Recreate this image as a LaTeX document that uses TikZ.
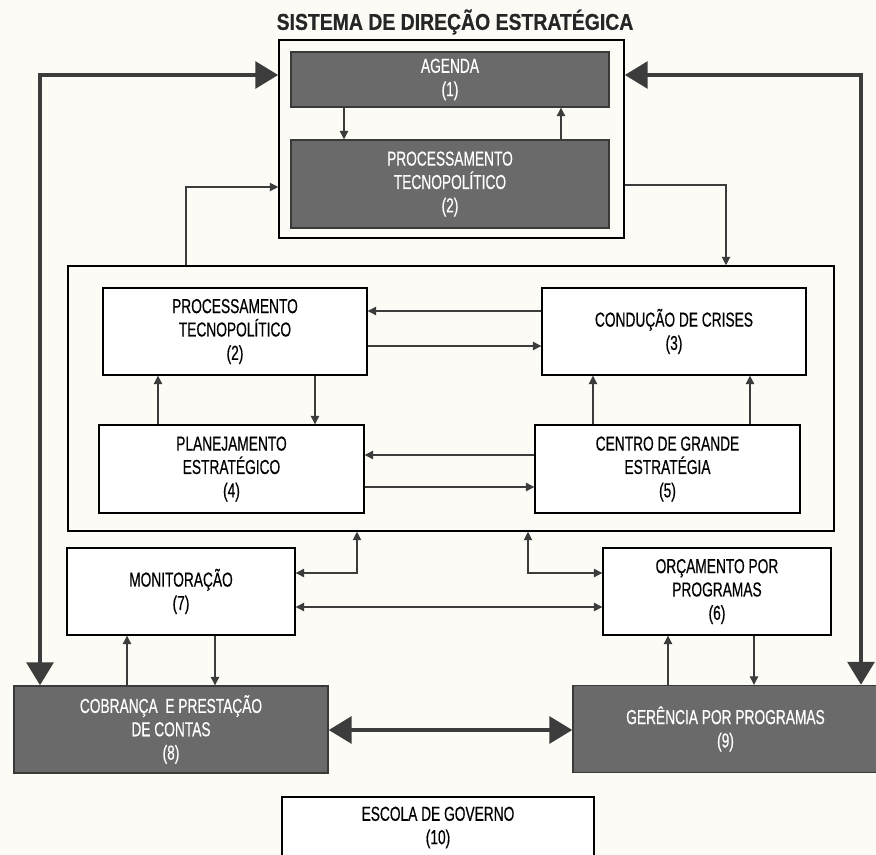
\documentclass[tikz,border=0pt]{standalone}
\usepackage{fontspec}
\setmainfont{Liberation Sans}[FakeStretch=0.68,FakeBold=0.5]
\newfontfamily\fonttitulo{Liberation Sans Bold}[FakeStretch=0.85,FakeBold=0.6]
\usetikzlibrary{arrows.meta}
\definecolor{cinzabox}{RGB}{106,106,106}
\definecolor{cinzalinha}{RGB}{60,60,60}
\definecolor{papel}{RGB}{252,251,245}

\begin{document}
\begin{tikzpicture}[x=0.02cm,y=-0.02cm,
  caixa/.style={draw=black,line width=0.8pt,fill=white,align=center,inner sep=0pt,
    font=\fontsize{11.5}{13.3}\selectfont},
  escura/.style={caixa,fill=cinzabox,text=white,draw=cinzabox!55!black},
  moldura/.style={draw=black,line width=0.9pt,inner sep=0pt},
  fina/.style={draw=cinzalinha,line width=0.6pt,>={Triangle[length=4.8pt,width=4.8pt]}},
  grossa/.style={draw=cinzalinha,line width=2.6pt,>={Triangle[length=13pt,width=15pt]}}]

\useasboundingbox[fill=papel] (0,0) rectangle (876,855);

\node[font=\fonttitulo\fontsize{13}{15}\selectfont,text=black!85] (titulo) at (455,22) {SISTEMA DE DIREÇÃO ESTRATÉGICA};

% bloco de cima
\node[moldura,minimum width=6.9cm,minimum height=3.96cm] (sistema) at (451.5,139) {};
\node[escura,minimum width=6.36cm,minimum height=1.1cm] (agenda) at (450,79.5) {AGENDA\\(1)};
\node[escura,minimum width=6.36cm,minimum height=1.76cm] (tecno) at (450,184) {PROCESSAMENTO\\TECNOPOLÍTICO\\(2)};

% bloco do meio
\node[moldura,minimum width=15.32cm,minimum height=5.3cm] (nucleo) at (451,398.5) {};
\node[caixa,minimum width=5.28cm,minimum height=1.74cm] (proc) at (235,331.5) {PROCESSAMENTO\\TECNOPOLÍTICO\\(2)};
\node[caixa,minimum width=5.28cm,minimum height=1.74cm] (crises) at (674,331.5) {CONDUÇÃO DE CRISES\\(3)};
\node[caixa,minimum width=5.3cm,minimum height=1.76cm] (plan) at (231.5,469) {PLANEJAMENTO\\ESTRATÉGICO\\(4)};
\node[caixa,minimum width=5.3cm,minimum height=1.76cm] (centro) at (667.5,469) {CENTRO DE GRANDE\\ESTRATÉGIA\\(5)};

% bloco de baixo
\node[caixa,minimum width=4.56cm,minimum height=1.74cm] (monit) at (181,591.5) {MONITORAÇÃO\\(7)};
\node[caixa,minimum width=4.56cm,minimum height=1.74cm] (orcam) at (717,591.5) {ORÇAMENTO POR\\PROGRAMAS\\(6)};
\node[escura,minimum width=6.28cm,minimum height=1.74cm] (cobr) at (171,729.5) {COBRANÇA \ E PRESTAÇÃO\\DE CONTAS\\(8)};
\node[escura,minimum width=6.1cm,minimum height=1.74cm] (geren) at (725.5,729) {GERÊNCIA POR PROGRAMAS\\(9)};
\node[caixa,minimum width=6.24cm,minimum height=1.22cm] (escola) at (438,827.5) {ESCOLA DE GOVERNO\\(10)};

% pontos de apoio
\coordinate (a1) at (344,0);
\coordinate (a2) at (561,0);
\coordinate (b1) at (158,0);
\coordinate (b2) at (315,0);
\coordinate (b3) at (593,0);
\coordinate (b4) at (750,0);
\coordinate (d1) at (127,0);
\coordinate (d2) at (215,0);
\coordinate (d3) at (668,0);
\coordinate (d4) at (754,0);
\coordinate (h1) at (0,311);
\coordinate (h2) at (0,346);
\coordinate (h3) at (0,455);
\coordinate (h4) at (0,487);
\coordinate (h5) at (0,607);
\coordinate (h6) at (0,730);
\coordinate (cantoesq) at (40,75);
\coordinate (cantodir) at (861,75);
\coordinate (subida) at (186,187);
\coordinate (descida) at (726,185);
\coordinate (e1) at (357,573);
\coordinate (e2) at (528,573);

% setas grossas
\draw[grossa,<->] (sistema.west |- cantoesq) -- (cantoesq) -- (cantoesq |- cobr.north);
\draw[grossa,<->] (sistema.east |- cantodir) -- (cantodir) -- (cantodir |- geren.north);
\draw[grossa,<->] (cobr.east |- h6) -- (geren.west |- h6);

% setas finas
\draw[fina,->] (a1 |- agenda.south) -- (a1 |- tecno.north);
\draw[fina,->] (a2 |- tecno.north) -- (a2 |- agenda.south);
\draw[fina,->] (subida |- nucleo.north) -- (subida) -- (subida -| sistema.west);
\draw[fina,->] (descida -| sistema.east) -- (descida) -- (descida |- nucleo.north);

\draw[fina,->] (crises.west |- h1) -- (proc.east |- h1);
\draw[fina,->] (proc.east |- h2) -- (crises.west |- h2);
\draw[fina,->] (b1 |- plan.north) -- (b1 |- proc.south);
\draw[fina,->] (b2 |- proc.south) -- (b2 |- plan.north);
\draw[fina,->] (b3 |- centro.north) -- (b3 |- crises.south);
\draw[fina,->] (b4 |- centro.north) -- (b4 |- crises.south);
\draw[fina,->] (centro.west |- h3) -- (plan.east |- h3);
\draw[fina,->] (plan.east |- h4) -- (centro.west |- h4);

\draw[fina,<->] (e1 -| monit.east) -- (e1) -- (e1 |- nucleo.south);
\draw[fina,<->] (e2 |- nucleo.south) -- (e2) -- (e2 -| orcam.west);
\draw[fina,<->] (monit.east |- h5) -- (orcam.west |- h5);

\draw[fina,->] (d1 |- cobr.north) -- (d1 |- monit.south);
\draw[fina,->] (d2 |- monit.south) -- (d2 |- cobr.north);
\draw[fina,->] (d3 |- geren.north) -- (d3 |- orcam.south);
\draw[fina,->] (d4 |- orcam.south) -- (d4 |- geren.north);
\end{tikzpicture}
\end{document}
